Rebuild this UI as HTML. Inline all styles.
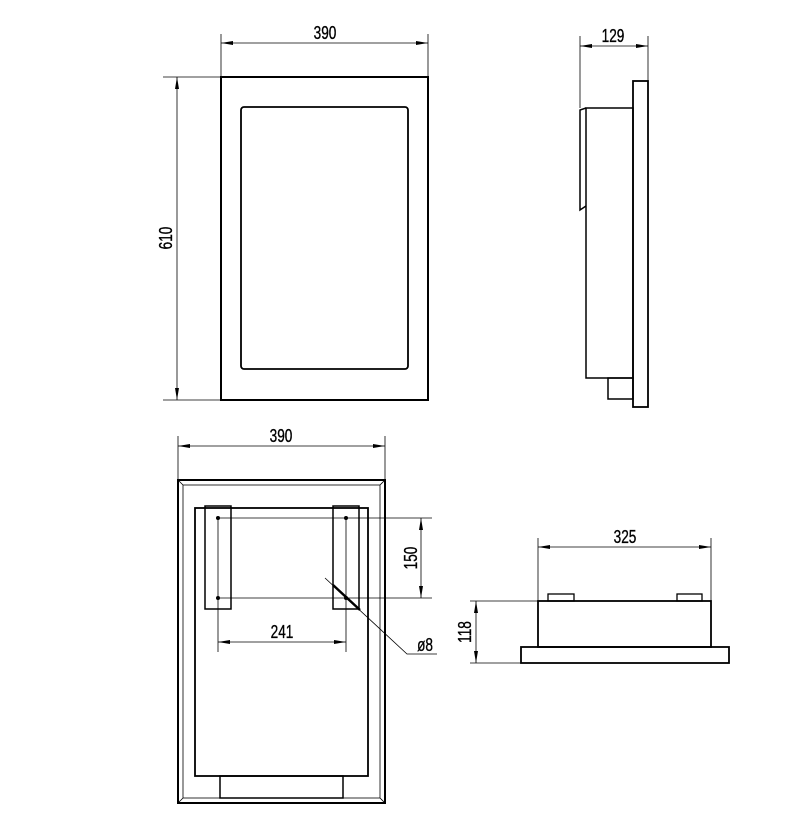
<!DOCTYPE html>
<html><head><meta charset="utf-8"><style>html,body{margin:0;padding:0;background:#fff}svg{display:block}text{font-family:"Liberation Sans",sans-serif;font-size:16px;fill:#000;stroke:#000;stroke-width:0.3}</style></head><body>
<svg width="785" height="821" viewBox="0 0 785 821" xmlns="http://www.w3.org/2000/svg">
<defs><marker id="a" viewBox="0 0 12 4" refX="12" refY="2" markerWidth="12" markerHeight="4" orient="auto-start-reverse" markerUnits="userSpaceOnUse"><path d="M0,0L12,2L0,4z" fill="#000"/></marker></defs>
<g fill="none" stroke="#000">
<rect x="221" y="77" width="207" height="323" stroke-width="2"/>
<rect x="241" y="107" width="167" height="262" rx="3" stroke-width="1.8"/>
<g stroke-width="0.8">
<line x1="221" y1="34" x2="221" y2="77"/><line x1="428" y1="34" x2="428" y2="77"/>
<line x1="221" y1="43" x2="428" y2="43" marker-start="url(#a)" marker-end="url(#a)"/>
<line x1="163" y1="77" x2="221" y2="77"/><line x1="163" y1="400" x2="221" y2="400"/>
<line x1="177" y1="77" x2="177" y2="400" marker-start="url(#a)" marker-end="url(#a)"/>
</g>
<rect x="633" y="81" width="15" height="326" stroke-width="1.8"/>
<rect x="586" y="108" width="47" height="270" stroke-width="1.5"/>
<path d="M586,108 L580,110 L580,210 L586,206" stroke-width="1.5"/>
<rect x="608" y="378" width="25" height="21" stroke-width="1.5"/>
<g stroke-width="0.8">
<line x1="580" y1="36" x2="580" y2="108"/><line x1="648" y1="36" x2="648" y2="81"/>
<line x1="580" y1="46" x2="648" y2="46" marker-start="url(#a)" marker-end="url(#a)"/>
</g>
<rect x="178" y="480" width="207" height="323" stroke-width="2"/>
<rect x="183" y="485" width="197" height="313" stroke-width="0.8"/>
<g stroke-width="0.8"><line x1="178" y1="480" x2="183" y2="485"/><line x1="385" y1="480" x2="380" y2="485"/><line x1="178" y1="803" x2="183" y2="798"/><line x1="385" y1="803" x2="380" y2="798"/></g>
<rect x="195" y="508" width="173" height="268" stroke-width="1.8"/>
<rect x="205" y="506" width="26" height="103" stroke-width="1.5"/>
<rect x="333" y="506" width="26" height="103" stroke-width="1.5"/>
<rect x="220" y="776" width="123" height="22" stroke-width="1.5"/>
<g stroke-width="0.8">
<line x1="218" y1="518" x2="218" y2="652"/><line x1="346" y1="518" x2="346" y2="652"/>
<line x1="218" y1="518" x2="432" y2="518"/><line x1="218" y1="598" x2="432" y2="598"/>
<line x1="421" y1="518" x2="421" y2="598" marker-start="url(#a)" marker-end="url(#a)"/>
<line x1="218" y1="642" x2="346" y2="642" marker-start="url(#a)" marker-end="url(#a)"/>
<line x1="178" y1="436" x2="178" y2="480"/><line x1="385" y1="436" x2="385" y2="480"/>
<line x1="178" y1="446" x2="385" y2="446" marker-start="url(#a)" marker-end="url(#a)"/>
<polyline points="325,578 407,654 437,654"/>
</g>
<line x1="333" y1="585" x2="360" y2="610" stroke-width="2.5"/>
</g>
<g fill="#000"><circle cx="218" cy="518" r="2"/><circle cx="346" cy="518" r="2"/><circle cx="218" cy="598" r="2"/><circle cx="346" cy="598" r="2"/></g>
<g fill="none" stroke="#000">
<rect x="538" y="601" width="173" height="46" stroke-width="1.8"/>
<rect x="521" y="647" width="208" height="16" stroke-width="1.8"/>
<rect x="548" y="594" width="26" height="7" stroke-width="1.3"/>
<rect x="677" y="594" width="25" height="7" stroke-width="1.3"/>
<g stroke-width="0.8">
<line x1="538" y1="538" x2="538" y2="601"/><line x1="711" y1="538" x2="711" y2="601"/>
<line x1="538" y1="547" x2="711" y2="547" marker-start="url(#a)" marker-end="url(#a)"/>
<line x1="470" y1="601" x2="538" y2="601"/><line x1="470" y1="663" x2="521" y2="663"/>
<line x1="476" y1="601" x2="476" y2="663" marker-start="url(#a)" marker-end="url(#a)"/>
</g>
</g>
<g text-anchor="middle">
<text transform="translate(325,39) scale(0.85,1.15)">390</text>
<text transform="translate(172,238) rotate(-90) scale(0.85,1.15)">610</text>
<text transform="translate(613,42) scale(0.85,1.15)">129</text>
<text transform="translate(281,442) scale(0.85,1.15)">390</text>
<text transform="translate(417,558) rotate(-90) scale(0.85,1.15)">150</text>
<text transform="translate(282,638) scale(0.85,1.15)">241</text>
<text transform="translate(425,651) scale(0.85,1.15)">ø8</text>
<text transform="translate(625,543) scale(0.85,1.15)">325</text>
<text transform="translate(471,632) rotate(-90) scale(0.85,1.15)">118</text>
</g>
</svg>
</body></html>
